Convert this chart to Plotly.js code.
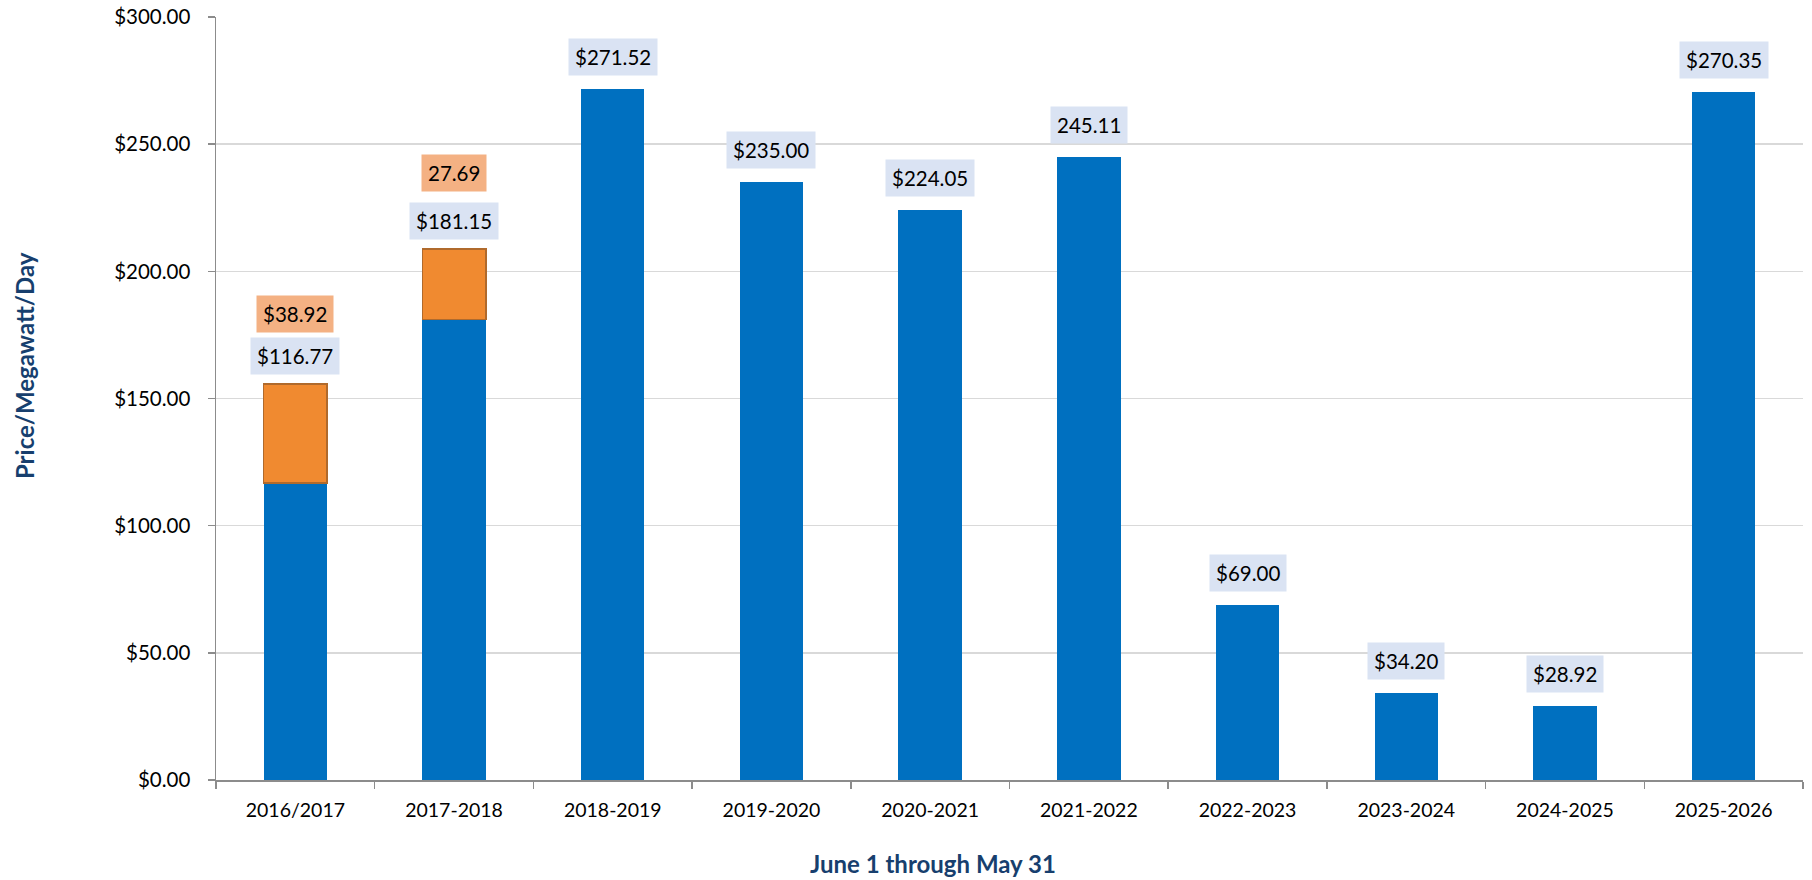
<!DOCTYPE html>
<html>
<head>
<meta charset="utf-8">
<script src="https://cdn.plot.ly/plotly-3.0.1.min.js"></script>
<style>html,body{margin:0;padding:0;background:#fff;}#chart{width:1812px;height:880px;}</style>
</head>
<body>
<div id="chart"></div>
<script>
// Delivery years (June 1 through May 31)
const years = ["2016/2017","2017-2018","2018-2019","2019-2020","2020-2021","2021-2022","2022-2023","2023-2024","2024-2025","2025-2026"];
// Base capacity price ($/MW-day)
const basePrice = [116.77, 181.15, 271.52, 235.00, 224.05, 245.11, 69.00, 34.20, 28.92, 270.35];
// Additional (transition) component, only first two years
const addPrice = [38.92, 27.69, null, null, null, null, null, null, null, null];
// Label texts as shown on the chart
const baseLabels = ["$116.77","$181.15","$271.52","$235.00","$224.05","245.11","$69.00","$34.20","$28.92","$270.35"];
const addLabels = ["$38.92","27.69",null,null,null,null,null,null,null,null];
const xTitle = "June 1 through May 31";
const yTitle = "Price/Megawatt/Day";

const FONT = "Lato, 'Open Sans', sans-serif";
const titleColor = "#173F6E";

const traces = [
  {type:"bar", x:years, y:basePrice, marker:{color:"#0070C0", line:{width:0}}, hoverinfo:"x+y", showlegend:false},
  {type:"bar", x:years, y:addPrice, marker:{color:"#F08A30", line:{color:"#B06A2C", width:1.5}}, hoverinfo:"x+y", showlegend:false}
];

const annotations = [];
const addShift = [51, 57];
years.forEach((yr, i) => {
  const top = basePrice[i] + (addPrice[i] || 0);
  annotations.push({
    x: yr, y: top, xref:"x", yref:"y", text: baseLabels[i], showarrow:false,
    yanchor:"bottom", yshift: addPrice[i] ? 9 : 13, bgcolor:"#DAE3F3", borderpad:6,
    font:{family:FONT, size:20.5, color:"#000"}
  });
  if (addLabels[i]) {
    annotations.push({
      x: yr, y: top, xref:"x", yref:"y", text: addLabels[i], showarrow:false,
      yanchor:"bottom", yshift: addShift[i], bgcolor:"#F4B183", borderpad:6,
      font:{family:FONT, size:20.5, color:"#000"}
    });
  }
});
// Axis titles (placed as in the reference, off-centre)
annotations.push({
  text:"<b>"+xTitle+"</b>", xref:"paper", yref:"paper", x:0.4518, y:0, yshift:-83,
  xanchor:"center", yanchor:"middle", showarrow:false,
  font:{family:FONT, size:24, color:titleColor}
});
annotations.push({
  text:"<b>"+yTitle+"</b>", xref:"paper", yref:"paper", x:0, xshift:-192, y:0.5425,
  xanchor:"center", yanchor:"middle", textangle:-90, showarrow:false,
  font:{family:FONT, size:24, color:titleColor}
});

const layout = {
  width:1812, height:880,
  margin:{l:216, r:9, t:16.5, b:99.5},
  paper_bgcolor:"#fff", plot_bgcolor:"#fff",
  barmode:"stack", bargap:0.6,
  font:{family:FONT, size:19, color:"#000"},
  xaxis:{
    type:"category", showline:true, linecolor:"#8C8C8C", linewidth:1.5,
    ticks:"outside", tickson:"boundaries", ticklen:7, tickcolor:"#8C8C8C", tickwidth:1.5,
    ticklabelstandoff:12,
    tickfont:{family:FONT, size:19.5, color:"#000"}, showgrid:false
  },
  yaxis:{
    range:[0,300], dtick:50, tickformat:"$,.2f",
    showline:true, linecolor:"#8C8C8C", linewidth:1.5,
    ticks:"outside", ticklen:7, tickcolor:"#8C8C8C", tickwidth:1.5,
    ticklabelstandoff:13,
    gridcolor:"#D9D9D9", gridwidth:1.5, zeroline:false,
    tickfont:{family:FONT, size:20.5, color:"#000"}
  },
  annotations: annotations
};

Plotly.newPlot("chart", traces, layout, {displayModeBar:false, staticPlot:true});
</script>
</body>
</html>
